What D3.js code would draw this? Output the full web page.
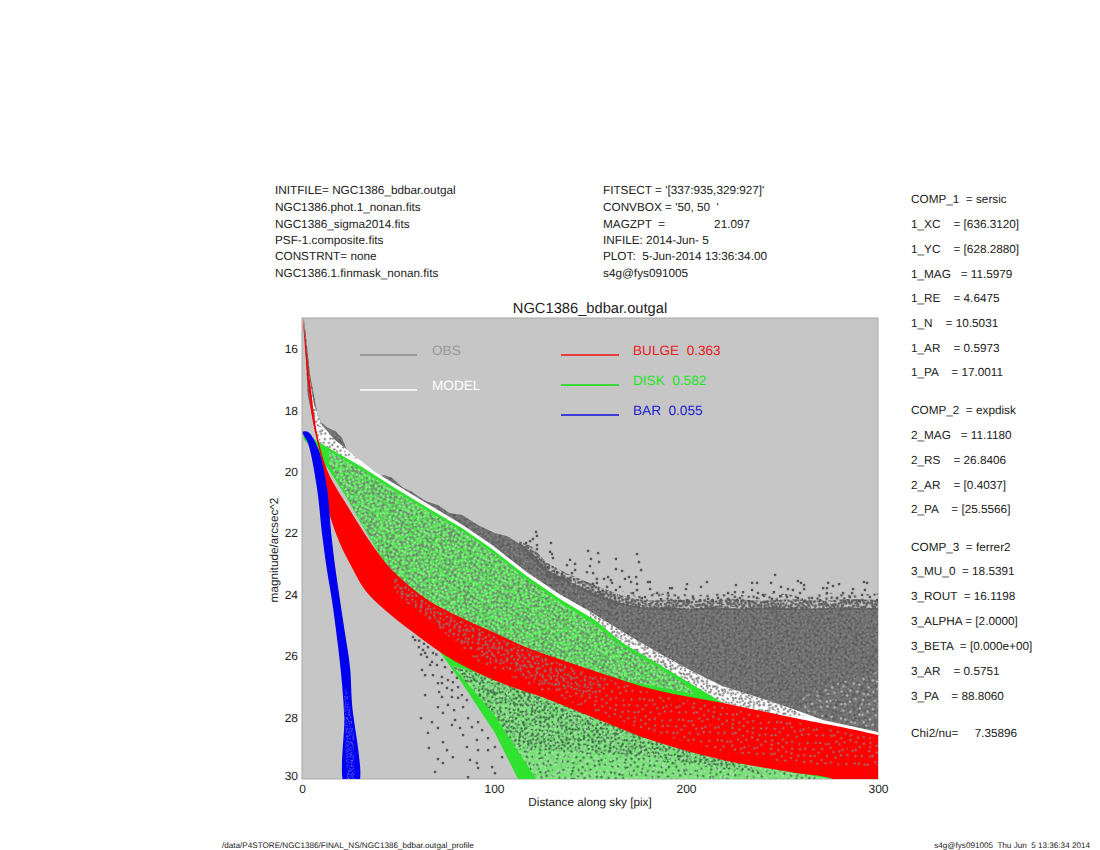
<!DOCTYPE html>
<html><head><meta charset="utf-8">
<script src="https://cdn.jsdelivr.net/npm/d3@7"></script>
<style>
html,body{margin:0;padding:0;background:#fff}
svg{display:block}
text{font-family:"Liberation Sans",Arial,sans-serif;white-space:pre;fill:#222;text-rendering:geometricPrecision}
</style></head><body>
<svg id="c" width="1100" height="850"></svg>
<script>
// ---- text ----
const headerLeft = ["INITFILE= NGC1386_bdbar.outgal","NGC1386.phot.1_nonan.fits","NGC1386_sigma2014.fits","PSF-1.composite.fits","CONSTRNT= none","NGC1386.1.finmask_nonan.fits"];
const headerMid = ["FITSECT = '[337:935,329:927]'","CONVBOX = '50, 50  '","MAGZPT  =               21.097","INFILE: 2014-Jun- 5","PLOT:  5-Jun-2014 13:36:34.00","s4g@fys091005"];
const paramLabels = ["COMP_1  = sersic","1_XC    = [636.3120]","1_YC    = [628.2880]","1_MAG   = 11.5979","1_RE    = 4.6475","1_N    = 10.5031","1_AR    = 0.5973","1_PA    = 17.0011","COMP_2  = expdisk","2_MAG   = 11.1180","2_RS    = 26.8406","2_AR    = [0.4037]","2_PA    = [25.5566]","COMP_3  = ferrer2","3_MU_0  = 18.5391","3_ROUT  = 16.1198","3_ALPHA = [2.0000]","3_BETA  = [0.000e+00]","3_AR    = 0.5751","3_PA    = 88.8060","Chi2/nu=     7.35896"];
const paramRows = [199,224,249,274,298,323,348,372,410,435,460,485,509,547,571,596,621,646,671,696,733];
const xTicks = [0,100,200,300];
const yTicks = [16,18,20,22,24,26,28,30];
const legendLeft = [["OBS","#999999","#8a8a8a"],["MODEL","#ffffff","#ffffff"]];
const legendRight = [["BULGE  0.363","#e8201f","#ee1111"],["DISK  0.582","#22e522","#11dd11"],["BAR  0.055","#2222cc","#1111dd"]];

// ---- regions of the profile: [distance pix, mag] ----
const obsOutline = [[1,15],[4.2,16.85],[7.8,18.06],[10,18.4],[13.5,18.58],[17.2,18.68],[20.8,18.9],[23,19.25],[25,19.39],[28.6,19.56],[33,19.85],[39.6,20.14],[43,20.12],[46.9,20.21],[52,20.5],[57.3,20.66],[64,20.95],[70.8,21.09],[77,21.35],[83.3,21.41],[92,21.75],[100.5,22],[107,22.1],[113.5,22.35],[120,22.65],[127.6,23.2],[136,23.45],[144.8,23.75],[154,24],[162,24.2],[172,24.36],[180,24.44],[190,24.4],[200,24.46],[215,24.42],[230,24.46],[245,24.41],[260,24.46],[280,24.42],[300,24.44],[300,29],[219,28],[150,25.5],[100,23],[50,21],[20,19.5],[8,19],[3,17.5]];
const obsFringeLow = [[113,22.25],[120,22.45],[127,22.95],[136,23.25],[145,23.5],[155,23.75],[165,24],[172,24.12],[180,24.2],[195,24.16],[210,24.2],[225,24.15],[240,24.2],[255,24.15],[270,24.2],[285,24.14],[300,24.18],[300,24.5],[180,24.5],[162,24.3],[145,23.85],[127,23.3],[113,22.45]];
const obsFringeHigh = [[165,23.85],[178,24],[190,23.92],[205,24.02],[218,23.94],[232,24.03],[246,23.95],[260,24.03],[275,23.94],[288,24.02],[300,23.96],[300,24.2],[180,24.25]];
const obsThinOutline = [[262,27.3],[278,26.9],[300,26.5],[300,28.4],[271,28],[256,27.65]];
const modelOutline = [[3.6,16.85],[6.3,17.83],[10.4,18.48],[17.2,18.97],[25,19.36],[38,20.01],[48.4,20.4],[65.6,21.05],[83.3,21.72],[99,22.39],[117.7,23.3],[134.4,24],[150,24.55],[167.2,25.22],[184.9,25.87],[202,26.45],[219.3,26.98],[237,27.33],[254.2,27.69],[271.4,28.08],[300,28.47],[300,29],[219,28],[150,25.5],[100,23],[50,21],[20,19.5],[8,19],[4,17.5]];
const modelMottledLeft = [[3.6,16.85],[6.3,17.83],[10.4,18.48],[17.2,18.97],[25,19.36],[30,19.6],[20,19.5],[8,19],[4,17.5]];
const modelMottledRight = [[150,24.55],[167.2,25.22],[184.9,25.87],[202,26.45],[219.3,26.98],[237,27.33],[254.2,27.69],[262,27.95],[219,28],[150,25.5]];
const diskOutline = [[0.5,18.72],[4,18.85],[9.4,19.07],[31.3,19.85],[48.4,20.53],[65.6,21.18],[83.3,21.83],[99,22.52],[117.7,23.43],[135.4,24.18],[152.6,24.83],[167.2,25.58],[184.9,26.23],[202,26.88],[219.3,27.53],[250,28.8],[276,30],[112.5,30],[100.5,28.5],[83.3,26.88],[71.9,25.87],[39.6,22.61],[31.3,21.74],[22.4,20.76],[13.5,19.9],[6,19.3],[1,18.95]];
const diskUpperInner = [[14,19.32],[31.3,19.95],[48.4,20.63],[65.6,21.28],[83.3,21.93],[99,22.62],[117.7,23.55],[135.4,24.3],[152.6,24.98],[167.2,25.7],[184.9,26.35],[198,26.85],[205,27.25],[152.6,26.6],[100,25.4],[65,24.3],[48,23.4],[40,22.6],[31,21.68],[22,20.65],[14,19.75]];
const diskLowerInner = [[78,26.3],[100,27.9],[122,30],[276,30],[230,29.5],[150,27.6]];
const diskLowerDark = [[78,26.3],[100,27.9],[112,29],[170,29.2],[240,29.8],[230,29.5],[150,27.6]];
const bulgeOutline = [[0.5,15],[4.2,17.08],[8.3,18.9],[13.5,20.01],[22.4,20.99],[39.6,22.65],[48.4,23.3],[65.6,24.18],[83.3,24.76],[100.5,25.25],[117.7,25.74],[135.4,26.13],[152.6,26.49],[184.9,27.11],[219.3,27.53],[254.2,27.98],[300,28.57],[320,28.95],[332,30],[320,31],[295,30.6],[276.6,30],[254.2,29.77],[219.3,29.38],[184.9,28.8],[152.6,28.02],[126.6,27.37],[109.4,27.01],[91.7,26.55],[74.5,25.97],[56.25,25.15],[43.2,24.5],[32.8,23.85],[25,23],[19.5,22.3],[13.5,21.18],[10.4,19.69],[5.7,18.38],[3.1,17.08]];
const bulgeInner = [[48,23.4],[65.6,24.3],[83,24.85],[100,25.35],[135,26.25],[185,27.25],[219,27.65],[254,28.1],[300,28.7],[300,29.6],[254,29.5],[219,29.1],[185,28.55],[152,27.8],[126,27.15],[92,26.2],[75,25.3],[60,24.6],[48,23.9]];
const bulgeInnerLeft = [[48,23.4],[65.6,24.3],[83,24.85],[100,25.35],[135,26.25],[160,26.8],[150,27.3],[126,26.9],[92,26],[75,25.2],[60,24.5],[48,23.9]];
const barOutline = [[0.5,18.7],[3,18.7],[8.3,19.23],[13,20.53],[15.2,22],[17.5,23.2],[19.8,24.18],[22.5,25.3],[25,26.36],[26,27.5],[29.2,30.2],[22.4,30.2],[22,28],[20.8,26.88],[18.8,25.7],[15.6,24.18],[13,23.2],[10.4,22],[7.8,20.53],[3.1,19.07],[0.5,18.77]];
const barFaint = [[23,27],[27,28.5],[27.5,30],[23.5,30],[21.5,27.5]];
// individually readable observed pixels above the dense band
const obsHigh = [[121.9,21.96],[122.4,22.09],[120.3,22.19],[118.8,22.26],[116.7,22.32],[129.7,22.32],[122.4,22.39],[122.4,22.52],[129.2,22.61],[130.2,22.68],[130.7,22.81],[149,22.58],[154.2,22.65],[174.5,22.68],[175.5,22.94],[150.5,22.84],[163.5,22.84],[154.7,22.94],[139.6,22.87],[138,23.04],[142.2,23],[150,23.07],[163.5,23.17],[176.6,23.2],[148.4,23.27],[151.6,23.3],[166.7,23.23],[142.2,23.2],[140.6,23.3],[128.1,23.1],[132.8,23.27],[135.4,23.33],[159.4,23.43],[157.3,23.49],[153.6,23.49],[160.9,23.53],[168.2,23.49],[170.3,23.43],[174,23.43],[171.4,23.59],[180.2,23.59],[174.5,23.65],[161.5,23.62],[153.6,23.62],[151.6,23.65],[181.3,23.82],[192.7,23.79],[190.6,23.95],[184.9,23.95],[174.5,23.85],[172.4,23.95],[165.6,23.75],[163.5,23.85],[158.9,23.75],[155.2,23.92],[178.6,24.08],[246.4,23.36],[200.5,23.66],[210.9,23.59],[207.8,23.75],[200,23.82],[226,23.69],[234.4,23.62],[237,23.62],[234.4,23.85],[244.3,23.62],[249.5,23.75],[258.3,23.56],[259.9,23.62],[261.5,23.69],[261.5,23.82],[253.1,23.82],[255.7,23.85],[245.8,23.92],[274,23.62],[273.4,23.79],[276.6,23.72],[279.7,23.66],[271.4,23.79],[292.7,23.59],[294.3,23.62],[287,23.82],[293.2,23.85],[281.8,23.95],[225.5,23.92],[221.9,23.95],[229.7,23.92],[237.5,23.95],[259.4,23.95],[273.4,23.95],[286.5,23.95],[291.7,24.01],[249,24.05],[240.1,24.01],[203.6,24.08],[211.5,24.14],[216.7,24.11],[200.5,24.18],[207.3,24.18],[221.9,24.14],[228.1,24.11],[237,24.11],[244.8,24.14],[252.6,24.08],[258.3,24.11],[265.6,24.11],[269.8,24.18],[278.6,24.11],[285.4,24.08],[295.8,24.08],[299.5,24.18],[191.7,23.79],[181.2,23.59],[214,24.2],[233,24.22],[242,24.24],[262,24.2],[283,24.22],[290,24.2],[196,24.1],[187,24.15],[177,24.12],[170,24.05],[163,24.1],[156,23.98]];
// scattered observed pixels left of the disk wedge
const obsLow = [[57.8,25.38],[60.9,25.71],[63,25.8],[65.1,26.03],[67.7,26.19],[70.3,26.29],[62.5,26.45],[64.1,26.62],[68.2,26.62],[72.9,26.68],[76,26.78],[78.6,26.85],[81.3,27.01],[70.8,26.88],[64.1,27.27],[71.4,27.17],[72.9,27.33],[78.1,27.11],[83.3,27.27],[85.9,27.43],[76,27.59],[70.8,27.66],[79.2,27.76],[73.4,27.85],[62,28.02],[67.7,28.15],[79.7,28.08],[86.5,28.02],[91.7,28.15],[78.1,28.24],[70.8,28.34],[82.3,28.34],[88.5,28.31],[93.8,28.41],[65.6,28.5],[83.9,28.57],[91.1,28.73],[96.9,28.67],[73.4,28.8],[85.9,28.96],[66.1,28.99],[91.7,29.06],[96.9,29.06],[100.5,28.96],[75.5,29.06],[104.2,29.29],[87.5,29.38],[78.6,29.29],[70.8,29.35],[91.1,29.48],[99,29.61],[91.7,29.64],[73.4,29.48],[69.3,29.77],[100.5,29.81],[86.5,29.94],[58.9,25.48],[65.6,25.71],[68.2,25.9],[72.9,26.13],[74.5,26.36],[78.1,26.53],[80.7,26.71],[64.1,25.9],[66.7,26.29],[72.9,26.88],[75.5,27.04],[78.1,27.33],[81.3,27.36],[83.9,27.66],[61,25.5],[63.5,25.6],[67,25.55],[70,25.95],[62,25.95]];

// ---- fill texture for the regions too dense to read dot by dot (style only) ----
const grain = [[3,7],[17,2],[29,11],[44,5],[58,14],[71,3],[9,22],[24,27],[37,19],[51,26],[66,21],[77,30],[2,38],[14,44],[31,36],[42,47],[55,39],[69,44],[20,55],[6,59],[35,62],[48,58],[62,54],[75,60],[12,72],[27,76],[41,70],[54,75],[68,69],[78,77],[22,14],[50,10],[63,33],[35,28],[10,33],[46,37],[73,13],[16,64],[59,65],[30,48],[5,50],[39,8],[67,8],[25,40],[52,49],[72,52],[8,76],[33,55],[61,77],[45,67]];

const svg = d3.select("#c");
const defs = svg.append("defs");
function texture(id,color,scale,size,angle){
  const p = defs.append("pattern").attr("id",id).attr("patternUnits","userSpaceOnUse")
    .attr("width",80*scale).attr("height",80*scale).attr("patternTransform",`rotate(${angle})`);
  p.selectAll("rect").data(grain).join("rect")
    .attr("x",d=>d[0]*scale).attr("y",d=>d[1]*scale).attr("width",size).attr("height",size).attr("fill",color);
  return `url(#${id})`;
}
const f = defs.append("filter").attr("id","soft").attr("x",0).attr("y",0).attr("width",1).attr("height",1);
f.append("feGaussianBlur").attr("stdDeviation",0.4);
const L=302,R=878,T=318,B=779;
const x = d3.scaleLinear().domain([0,300]).range([L,R]);
const y = d3.scaleLinear().domain([15,30]).range([T,B]);
const poly = d3.line().x(d=>x(d[0])).y(d=>y(d[1])).curve(d3.curveLinearClosed);
const smooth = d3.line().x(d=>x(d[0])).y(d=>y(d[1])).curve(d3.curveCatmullRomClosed.alpha(0.5));

defs.append("clipPath").attr("id","plot").append("rect").attr("x",L).attr("y",T).attr("width",R-L).attr("height",B-T);
svg.append("rect").attr("x",L).attr("y",T).attr("width",R-L).attr("height",B-T).attr("fill","#c6c6c6").attr("stroke","#a8a8a8").attr("stroke-width",1);
const g = svg.append("g").attr("clip-path","url(#plot)").append("g").attr("filter","url(#soft)");
function area(pts,fill,gen){ g.append("path").attr("d",(gen||poly)(pts)).attr("fill",fill); }
function dots(pts,color,s){ g.append("g").selectAll("rect").data(pts).join("rect")
  .attr("x",d=>x(d[0])-s/2).attr("y",d=>y(d[1])-s/2).attr("width",s).attr("height",s).attr("fill",color); }

// observed cloud
area(obsOutline,"#6e6e6e");
area(obsOutline,texture("o1","#585858",.42,2,17));
area(obsOutline,texture("o2","#545454",.62,2,62));
area(obsOutline,texture("o3","#828282",.36,2,-31));
area(obsThinOutline,texture("o4","#b4b4b4",.62,2.2,40));
area(obsFringeLow,texture("o5","#585858",.3,2.4,11));
area(obsFringeLow,texture("o6","#606060",.34,2.4,53));
area(obsFringeHigh,texture("o7","#585858",.5,2.4,-22));
dots(obsHigh,"#555555",2.4);
dots(obsLow,"#555555",2.4);
// model
area(modelOutline,"#ffffff");
area(modelMottledLeft,texture("m1","#7a7a7a",.35,2,25));
area(modelMottledRight,texture("m2","#7a7a7a",.36,2,25));
area(modelMottledRight,texture("m3","#8a8a8a",.42,2,-50));
// disk
area(diskOutline,"#2fe22f");
area(diskUpperInner,"#50e450");
area(diskUpperInner,texture("d1","#767f76",.36,2.2,13));
area(diskUpperInner,texture("d2","#7a7a7a",.42,2.2,71));
area(diskUpperInner,texture("d3","#84f284",.36,2.2,-40));
area(diskLowerInner,"#76e276");
area(diskLowerInner,texture("d4","#3d6f45",.48,2.2,33));
area(diskLowerDark,texture("d6","#3d6a45",.36,2.2,-65));
area(diskLowerInner,texture("d5","#aedcae",.38,2,-20));
// bulge
area(bulgeOutline,"#ff0000",smooth);
area(bulgeInner,texture("r1","#977878",.55,2,28));
area(bulgeInnerLeft,texture("r2","#8a7070",.42,2,-58));
// bar
area(barOutline,"#0000f0",smooth);
area(barFaint,texture("b1","#a8a8f0",.22,1,35));

// axes
const ax = d3.axisBottom(x).tickValues(xTicks).tickSize(0).tickPadding(5);
const ay = d3.axisLeft(y).tickValues(yTicks).tickSize(0).tickPadding(4);
const gx = svg.append("g").attr("transform",`translate(0,${B})`).call(ax);
const gy = svg.append("g").attr("transform",`translate(${L},0)`).call(ay);
[gx,gy].forEach(s=>{s.select(".domain").remove(); s.selectAll("text").attr("font-size",12).attr("font-family","Liberation Sans").attr("fill","#222");});
gy.selectAll("text").filter(d=>d===30).attr("dy","0.02em");
svg.append("text").attr("x",590).attr("y",806).attr("text-anchor","middle").attr("font-size",11.75).text("Distance along sky [pix]");
svg.append("text").attr("transform","translate(278,550) rotate(-90)").attr("text-anchor","middle").attr("font-size",11.75).text("magnitude/arcsec^2");

// legend
legendLeft.forEach((d,i)=>{const yy=[355,390][i];
  svg.append("line").attr("x1",360).attr("x2",417).attr("y1",yy).attr("y2",yy).attr("stroke",d[2]).attr("stroke-width",1.4);
  svg.append("text").attr("x",432).attr("y",yy).style("fill",d[1]).attr("font-size",13.6).text(d[0]);});
legendRight.forEach((d,i)=>{const yy=[355,385,415][i];
  svg.append("line").attr("x1",561).attr("x2",619).attr("y1",yy).attr("y2",yy).attr("stroke",d[2]).attr("stroke-width",1.4);
  svg.append("text").attr("x",633).attr("y",yy).style("fill",d[1]).attr("font-size",13.6).text(d[0]);});

// text blocks
const rowsTop=[190,207,224,240,256,273];
headerLeft.forEach((t,i)=>svg.append("text").attr("x",275).attr("y",rowsTop[i]+4).attr("font-size",11.75).text(t));
headerMid.forEach((t,i)=>svg.append("text").attr("x",603).attr("y",rowsTop[i]+4).attr("font-size",11.75).text(t));
paramLabels.forEach((t,i)=>svg.append("text").attr("x",911).attr("y",paramRows[i]+4).attr("font-size",11.75).text(t));
svg.append("text").attr("x",590).attr("y",313).attr("text-anchor","middle").attr("font-size",14.7).text("NGC1386_bdbar.outgal");
svg.append("text").attr("x",222).attr("y",848).attr("font-size",8.15).text("/data/P4STORE/NGC1386/FINAL_NS/NGC1386_bdbar.outgal_profile");
svg.append("text").attr("x",1090).attr("y",848).attr("text-anchor","end").attr("font-size",8.15).text("s4g@fys091005  Thu Jun  5 13:36:34 2014");
</script></body></html>
